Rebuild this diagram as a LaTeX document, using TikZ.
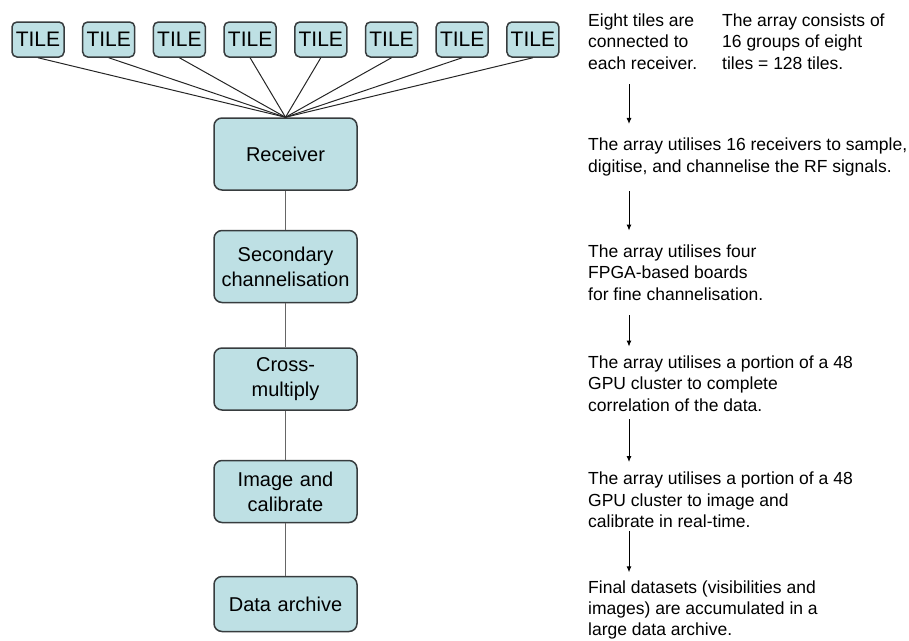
\documentclass[tikz,border=0pt]{standalone}
\usepackage{fontspec}
\setmainfont{Liberation Sans}
\usepackage{tikz}
\usetikzlibrary{arrows.meta}
\definecolor{boxfill}{RGB}{190,224,228}
\definecolor{boxline}{RGB}{55,60,62}
\tikzstyle{tilebox} = [rectangle, rounded corners=5pt, 
minimum width=52pt, 
minimum height=35pt, 
inner sep=1pt, 
text centered, 
font=\fontsize{21}{21}\selectfont, 
draw=boxline, line width=1.5pt, 
fill=boxfill]
\tikzstyle{stage} = [rectangle, rounded corners=8pt, 
minimum width=143pt, 
minimum height=62pt, 
text width=138pt, 
inner sep=1pt, 
align=center, 
font=\fontsize{20}{25}\selectfont, 
draw=boxline, line width=1.5pt, 
fill=boxfill]
\tikzstyle{note} = [anchor=west, 
inner sep=0pt, 
align=left, 
font=\fontsize{17.5}{21.3}\selectfont]
\tikzstyle{feed} = [line width=1pt, draw=black!85]
\tikzstyle{link} = [line width=1.5pt, draw=black!60]
\tikzstyle{pointer} = [line width=1pt, ->, >={Latex[length=6pt,width=5pt]}]

\begin{document}
\begin{tikzpicture}[x=1pt, y=-1pt, node distance=112.5pt]
\useasboundingbox (0,0) rectangle (909,640);

\node (tile1) [tilebox] at (38,39.5) {TILE};
\node (tile2) [tilebox, right of=tile1, node distance=70.7pt] {TILE};
\node (tile3) [tilebox, right of=tile2, node distance=70.7pt] {TILE};
\node (tile4) [tilebox, right of=tile3, node distance=70.7pt] {TILE};
\node (tile5) [tilebox, right of=tile4, node distance=70.7pt] {TILE};
\node (tile6) [tilebox, right of=tile5, node distance=70.7pt] {TILE};
\node (tile7) [tilebox, right of=tile6, node distance=70.7pt] {TILE};
\node (tile8) [tilebox, right of=tile7, node distance=70.7pt] {TILE};

\node (rx) [stage, minimum height=72pt] at (285.5,154) {Receiver};
\node (chan) [stage, minimum height=72pt, below of=rx] {Secondary\\ channelisation};
\node (xmul) [stage, below of=chan] {Cross-\\ multiply};
\node (imcal) [stage, below of=xmul] {Image and\\ calibrate};
\node (arch) [stage, minimum height=55pt, below of=imcal] {Data archive};

\draw [feed] (tile1.south) -- (rx.north);
\draw [feed] (tile2.south) -- (rx.north);
\draw [feed] (tile3.south) -- (rx.north);
\draw [feed] (tile4.south) -- (rx.north);
\draw [feed] (tile5.south) -- (rx.north);
\draw [feed] (tile6.south) -- (rx.north);
\draw [feed] (tile7.south) -- (rx.north);
\draw [feed] (tile8.south) -- (rx.north);

\draw [link] (rx) -- (chan);
\draw [link] (chan) -- (xmul);
\draw [link] (xmul) -- (imcal);
\draw [link] (imcal) -- (arch);

% notes on the right
\node (note1) [note] at (588,41.5) {Eight tiles are\\ connected to\\ each receiver.};
\node (note1b) [note] at (722,41.5) {The array consists of\\ 16 groups of eight\\ tiles = 128 tiles.};
\node (note2) [note] at (588,157) {The array utilises 16 receivers to sample,\\ digitise, and channelise the RF signals.};
\node (note3) [note] at (588,272.5) {The array utilises four\\ FPGA-based boards\\ for fine channelisation.};
\node (note4) [note] at (588,383.5) {The array utilises a portion of a 48\\ GPU cluster to complete\\ correlation of the data.};
\node (note5) [note] at (588,500) {The array utilises a portion of a 48\\ GPU cluster to image and\\ calibrate in real-time.};
\node (note6) [note] at (588,610) {Final datasets (visibilities and\\ images) are accumulated in a\\ large data archive.};

\coordinate (acol) at (629,0);
\draw [pointer, shorten <=15pt, shorten >=14pt] (note1.south -| acol) -- (note2.north -| acol);
\draw [pointer, shorten <=15pt, shorten >=14pt] (note2.south -| acol) -- (note3.north -| acol);
\draw [pointer, shorten <=15pt, shorten >=9pt] (note3.south -| acol) -- (note4.north -| acol);
\draw [pointer, shorten <=8pt, shorten >=10pt] (note4.south -| acol) -- (note5.north -| acol);
\draw [pointer, shorten <=3pt, shorten >=8pt] (note5.south -| acol) -- (note6.north -| acol);

\end{tikzpicture}
\end{document}
